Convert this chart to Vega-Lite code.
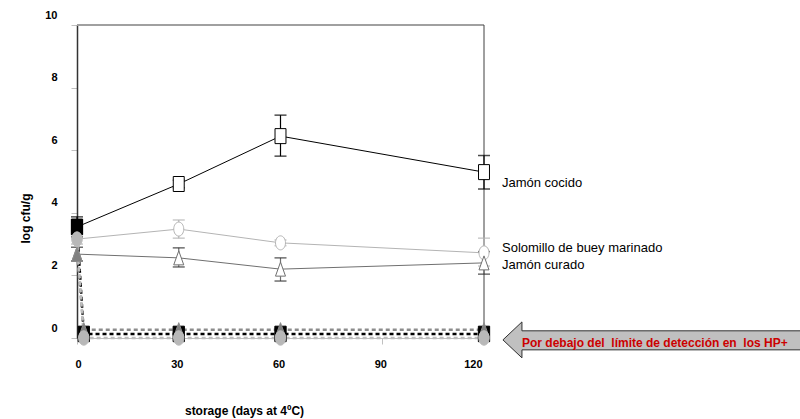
{
  "$schema": "https://vega.github.io/schema/vega-lite/v6.json",
  "width": 407,
  "height": 313,
  "autosize": {"type": "none"},
  "padding": {"left": 77, "top": 25, "right": 316, "bottom": 81},
  "background": "white",
  "config": {"view": {"stroke": null}, "font": "Liberation Sans"},
  "datasets": {
    "one": [{"k": 1}],
    "pts": [
      {"s": "Jamón cocido", "d": 0, "v": 3.55, "lo": 3.23, "hi": 3.87},
      {"s": "Jamón cocido", "d": 30, "v": 4.92, "lo": 4.8, "hi": 5.04},
      {"s": "Jamón cocido", "d": 60, "v": 6.45, "lo": 5.81, "hi": 7.12},
      {"s": "Jamón cocido", "d": 120, "v": 5.3, "lo": 4.76, "hi": 5.83},
      {"s": "Solomillo", "d": 0, "v": 3.16, "lo": 3.0, "hi": 3.3},
      {"s": "Solomillo", "d": 30, "v": 3.48, "lo": 3.19, "hi": 3.77},
      {"s": "Solomillo", "d": 60, "v": 3.04, "lo": 2.95, "hi": 3.13},
      {"s": "Solomillo", "d": 120, "v": 2.72, "lo": 2.3, "hi": 3.19},
      {"s": "Jamón curado", "d": 0, "v": 2.68, "lo": 2.46, "hi": 2.9},
      {"s": "Jamón curado", "d": 30, "v": 2.56, "lo": 2.27, "hi": 2.88},
      {"s": "Jamón curado", "d": 60, "v": 2.2, "lo": 1.82, "hi": 2.56},
      {"s": "Jamón curado", "d": 120, "v": 2.4, "lo": 2.04, "hi": 2.76}
    ],
    "hp": [
      {"s": "HP cocido", "d": 0, "v": 3.55},
      {"s": "HP cocido", "d": 2, "v": 0.13},
      {"s": "HP cocido", "d": 30, "v": 0.13},
      {"s": "HP cocido", "d": 60, "v": 0.13},
      {"s": "HP cocido", "d": 120, "v": 0.13},
      {"s": "HP curado", "d": 0, "v": 2.68},
      {"s": "HP curado", "d": 2, "v": 0.26},
      {"s": "HP curado", "d": 30, "v": 0.26},
      {"s": "HP curado", "d": 60, "v": 0.26},
      {"s": "HP curado", "d": 120, "v": 0.26},
      {"s": "HP solomillo", "d": 0, "v": 3.16},
      {"s": "HP solomillo", "d": 2, "v": 0.0},
      {"s": "HP solomillo", "d": 30, "v": 0.0},
      {"s": "HP solomillo", "d": 60, "v": 0.0},
      {"s": "HP solomillo", "d": 120, "v": 0.0}
    ]
  },
  "layer": [
    {
      "data": {"name": "pts"},
      "mark": {"type": "line", "strokeWidth": 1},
      "encoding": {
        "x": {
          "field": "d", "type": "quantitative",
          "scale": {"domain": [0, 120], "nice": false, "zero": false},
          "axis": {
            "values": [0, 30, 60, 90, 120],
            "title": "storage (days at 4ºC)",
            "titleFont": "Liberation Sans", "titleFontSize": 12, "titleFontWeight": "bold", "titleColor": "#000",
            "titleX": 167, "titleY": 72, "titleBaseline": "middle", "titleAlign": "center",
            "labelFont": "Liberation Sans", "labelFontSize": 11, "labelFontWeight": "bold", "labelColor": "#000",
            "labelPadding": 14, "labelOffset": -2, "tickSize": 6, "tickColor": "#c0c0c0", "domainColor": "#c0c0c0",
            "grid": false
          }
        },
        "y": {
          "field": "v", "type": "quantitative",
          "scale": {"domain": [0, 10], "nice": false},
          "axis": {
            "values": [0, 2, 4, 6, 8, 10],
            "title": "log cfu/g",
            "titleFont": "Liberation Sans", "titleFontSize": 12, "titleFontWeight": "bold", "titleColor": "#000",
            "titleX": -52, "titleY": 193, "titleAngle": -90, "titleBaseline": "middle", "titleAlign": "center",
            "labelFont": "Liberation Sans", "labelFontSize": 11, "labelFontWeight": "bold", "labelColor": "#000",
            "labelPadding": 14, "labelOffset": -10, "tickSize": 6, "tickColor": "#c0c0c0",
            "domainColor": "#333333", "domainWidth": 1.5, "grid": false
          }
        },
        "stroke": {"field": "s", "type": "nominal", "legend": null,
          "scale": {"domain": ["Jamón cocido", "Solomillo", "Jamón curado", "HP cocido", "HP solomillo", "HP curado"],
                    "range": ["#000000", "#b4b4b4", "#707070", "#000000", "#bdbdbd", "#8c8c8c"]}}
      }
    },
    {"data": {"name": "one"}, "mark": {"type": "rule", "color": "#a0a0a0", "strokeWidth": 2}, "encoding": {"y": {"datum": 10, "type": "quantitative"}}},
    {"data": {"name": "one"}, "mark": {"type": "rule", "color": "#404040", "strokeWidth": 1}, "encoding": {"x": {"datum": 120, "type": "quantitative"}}},
    {
      "data": {"name": "pts"},
      "mark": {"type": "rule", "strokeWidth": 1.2},
      "encoding": {
        "x": {"field": "d", "type": "quantitative"},
        "y": {"field": "lo", "type": "quantitative"},
        "y2": {"field": "hi"},
        "stroke": {"field": "s", "type": "nominal", "legend": null}
      }
    },
    {
      "data": {"name": "pts"},
      "mark": {"type": "tick", "orient": "horizontal", "size": 12, "thickness": 1.5},
      "encoding": {
        "x": {"field": "d", "type": "quantitative"},
        "y": {"field": "lo", "type": "quantitative"},
        "color": {"field": "s", "type": "nominal", "legend": null,
          "scale": {"domain": ["Jamón cocido", "Solomillo", "Jamón curado"], "range": ["#000000", "#b4b4b4", "#303030"]}}
      }
    },
    {
      "data": {"name": "pts"},
      "mark": {"type": "tick", "orient": "horizontal", "size": 12, "thickness": 1.5},
      "encoding": {
        "x": {"field": "d", "type": "quantitative"},
        "y": {"field": "hi", "type": "quantitative"},
        "color": {"field": "s", "type": "nominal", "legend": null}
      }
    },
    {
      "data": {"name": "pts"},
      "mark": {"type": "point", "filled": false, "fill": "white", "fillOpacity": 1, "opacity": 1, "strokeWidth": 1, "size": 225},
      "encoding": {
        "x": {"field": "d", "type": "quantitative"},
        "y": {"field": "v", "type": "quantitative"},
        "stroke": {"field": "s", "type": "nominal", "legend": null},
        "shape": {"field": "s", "type": "nominal", "legend": null,
          "scale": {"domain": ["Jamón cocido", "Solomillo", "Jamón curado", "HP cocido", "HP solomillo", "HP curado"],
                    "range": ["M-0.73,-1L0.73,-1L0.73,1L-0.73,1Z",
                              "M0,-0.933A0.667,0.933 0 1 1 0,0.933A0.667,0.933 0 1 1 0,-0.933Z",
                              "M0,-0.933L0.667,0.933L-0.667,0.933Z",
                              "M-0.73,-1L0.73,-1L0.73,1L-0.73,1Z",
                              "M0,-0.933A0.667,0.933 0 1 1 0,0.933A0.667,0.933 0 1 1 0,-0.933Z",
                              "M0,-0.933L0.667,0.933L-0.667,0.933Z"]}}
      }
    },
    {
      "data": {"name": "hp"},
      "mark": {"type": "line", "strokeWidth": 2.5, "strokeDash": [4, 3]},
      "encoding": {
        "x": {"field": "d", "type": "quantitative"},
        "y": {"field": "v", "type": "quantitative"},
        "stroke": {"field": "s", "type": "nominal", "legend": null}
      }
    },
    {
      "data": {"name": "hp"},
      "transform": [{"calculate": "datum.s == 'HP cocido' ? 0 : datum.s == 'HP curado' ? 1 : 2", "as": "o"}],
      "mark": {"type": "point", "filled": true, "opacity": 1, "strokeWidth": 1, "size": 240},
      "encoding": {
        "x": {"field": "d", "type": "quantitative"},
        "y": {"field": "v", "type": "quantitative"},
        "fill": {"field": "s", "type": "nominal", "legend": null,
          "scale": {"domain": ["HP cocido", "HP solomillo", "HP curado"], "range": ["#000000", "#b8b8b8", "#808080"]}},
        "stroke": {"field": "s", "type": "nominal", "legend": null},
        "shape": {"field": "s", "type": "nominal", "legend": null},
        "order": {"field": "o"}
      }
    },
    {
      "data": {"name": "one"},
      "mark": {"type": "text", "align": "left", "baseline": "middle", "font": "Liberation Sans", "fontSize": 13, "color": "#000"},
      "encoding": {"x": {"datum": 125.3, "type": "quantitative"}, "y": {"datum": 4.95, "type": "quantitative"}, "text": {"value": "Jamón cocido"}}
    },
    {
      "data": {"name": "one"},
      "mark": {"type": "text", "align": "left", "baseline": "middle", "font": "Liberation Sans", "fontSize": 13, "color": "#000"},
      "encoding": {"x": {"datum": 125.3, "type": "quantitative"}, "y": {"datum": 2.88, "type": "quantitative"}, "text": {"value": "Solomillo de buey marinado"}}
    },
    {
      "data": {"name": "one"},
      "mark": {"type": "text", "align": "left", "baseline": "middle", "font": "Liberation Sans", "fontSize": 13, "color": "#000"},
      "encoding": {"x": {"datum": 125.3, "type": "quantitative"}, "y": {"datum": 2.33, "type": "quantitative"}, "text": {"value": "Jamón curado"}}
    },
    {
      "data": {"name": "one"},
      "mark": {"type": "point", "filled": true, "fill": "#c0c0c0", "stroke": "#303030", "strokeWidth": 1, "opacity": 1, "size": 91204,
               "shape": "M-1,0L-0.874,-0.119L-0.874,-0.06L1,-0.06L1,0.066L-0.874,0.066L-0.874,0.119Z"},
      "encoding": {"x": {"datum": 170.1, "type": "quantitative"}, "y": {"datum": -0.06, "type": "quantitative"}}
    },
    {
      "data": {"name": "one"},
      "mark": {"type": "text", "align": "left", "baseline": "middle", "font": "Liberation Sans", "fontSize": 12, "fontWeight": "bold", "color": "#cc0000"},
      "encoding": {"x": {"datum": 131.2, "type": "quantitative"}, "y": {"datum": -0.16, "type": "quantitative"}, "text": {"value": "Por debajo del \u00a0límite de detección en \u00a0los HP+"}}
    }
  ]
}
